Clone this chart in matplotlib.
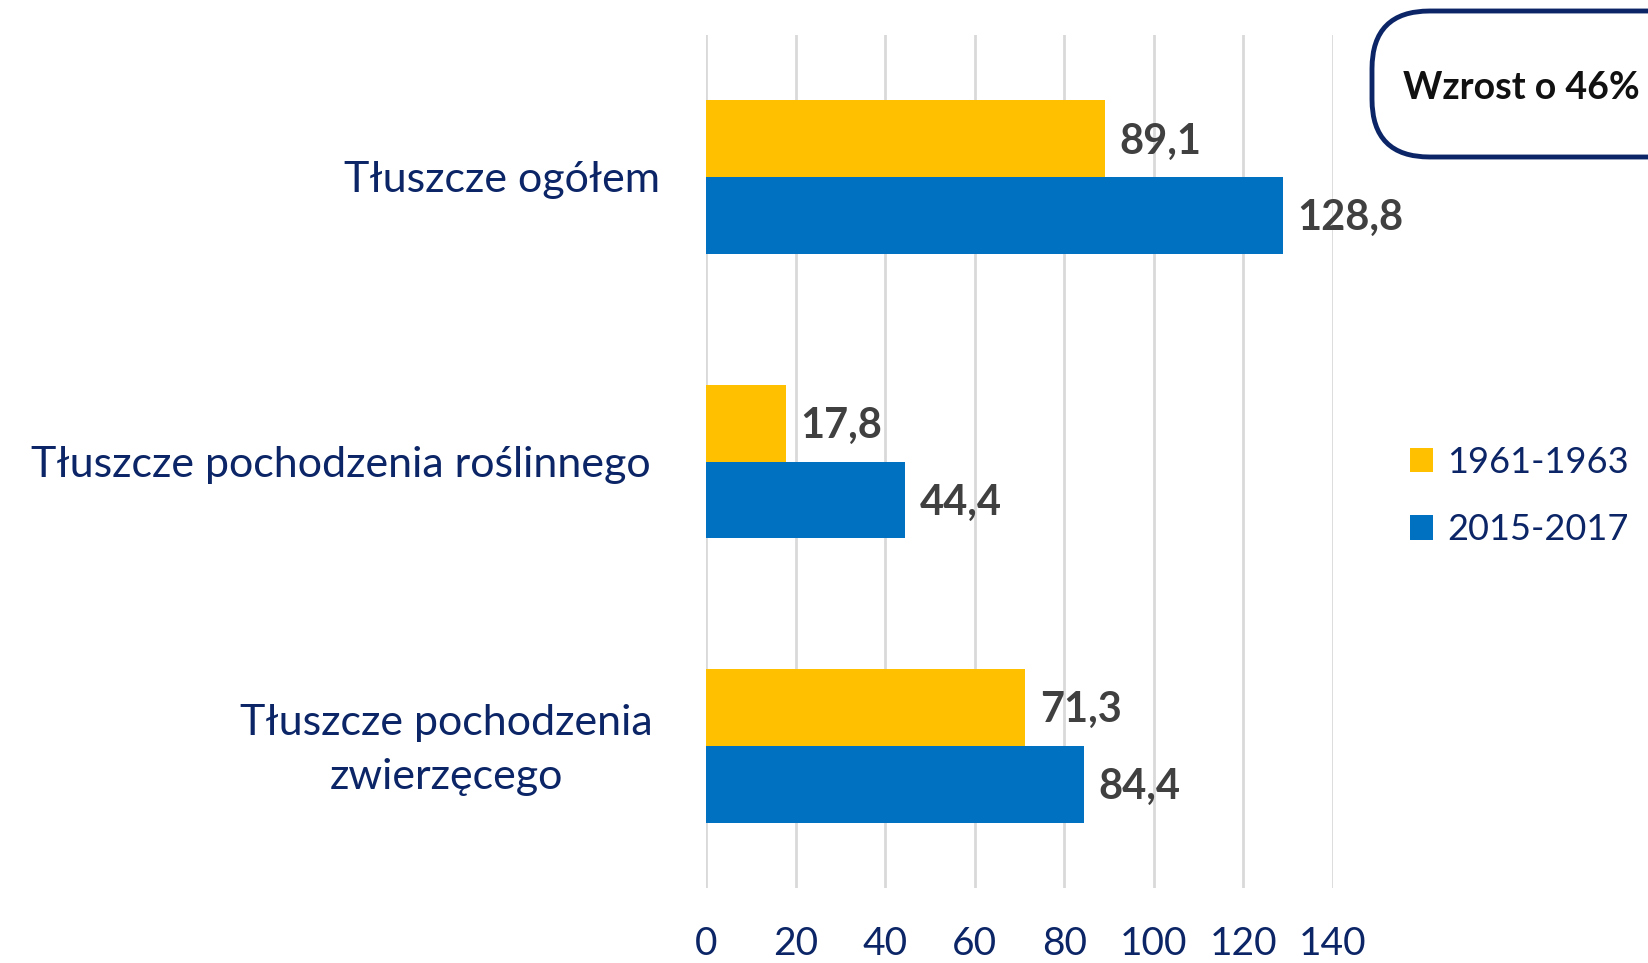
import numpy as np
import matplotlib.pyplot as plt
from matplotlib.patches import FancyBboxPatch
from matplotlib.transforms import ScaledTranslation

plt.rcParams["font.family"] = ["Lato", "DejaVu Sans"]

# === dane ===
categories = ["Tłuszcze ogółem",
              "Tłuszcze pochodzenia roślinnego",
              "Tłuszcze pochodzenia\nzwierzęcego"]
series_names = ["1961-1963", "2015-2017"]
values_1961 = [89.1, 17.8, 71.3]
values_2015 = [128.8, 44.4, 84.4]
x_ticks = [0, 20, 40, 60, 80, 100, 120, 140]
note_text = "Wzrost o 46%"

# === kolory / style ===
yellow = "#FFC000"
blue = "#0070C0"
navy = "#0B2566"
label_gray = "#404040"
grid_gray = "#D9D9D9"

W, H = 1648, 963
fig = plt.figure(figsize=(W / 100, H / 100), dpi=100)
ax = fig.add_axes([706 / W, 1 - 888 / H, (1333 - 706) / W, (888 - 35) / H])

y = np.arange(len(categories))
bar_h = 0.27

ax.barh(y - bar_h / 2, values_1961, height=bar_h, color=yellow, label=series_names[0])
ax.barh(y + bar_h / 2, values_2015, height=bar_h, color=blue, label=series_names[1])

# etykiety danych
for yy, v in zip(y - bar_h / 2, values_1961):
    ax.text(v + 3.3, yy + 0.01, f"{v:.1f}".replace(".", ","), va="center", ha="left",
            fontsize=30, fontweight="bold", color=label_gray)
for yy, v in zip(y + bar_h / 2, values_2015):
    ax.text(v + 3.3, yy + 0.01, f"{v:.1f}".replace(".", ","), va="center", ha="left",
            fontsize=30, fontweight="bold", color=label_gray)

ax.set_xlim(0, 140)
ax.set_ylim(2.5, -0.5)
ax.set_xticks(x_ticks)
ax.set_xticklabels([str(t) for t in x_ticks], fontsize=28, color=navy)
ax.set_yticks(y)
ax.set_yticklabels(categories, fontsize=31, color=navy, multialignment="center",
                   linespacing=1.52)
ax.tick_params(axis="x", length=0, pad=27)
ax.tick_params(axis="y", length=0, pad=36)
ax.grid(axis="x", color=grid_gray, linewidth=2)
ax.set_axisbelow(True)
for s in ax.spines.values():
    s.set_visible(False)

# drobne przesunięcia etykiet kategorii (jak w oryginale)
shifts = [(4, 1), (-5, 0), (-3, 7)]
for lab, (dx, dy) in zip(ax.get_yticklabels(), shifts):
    lab.set_transform(lab.get_transform() + ScaledTranslation(dx / 100, dy / 100, fig.dpi_scale_trans))

# legenda
leg = fig.legend(loc="center left", bbox_to_anchor=(1410 / W, 1 - 496 / H),
                 frameon=False, fontsize=26, handlelength=0.65, handleheight=0.65,
                 handletextpad=0.38, labelspacing=0.95, borderpad=0, borderaxespad=0)
for t in leg.get_texts():
    t.set_color(navy)

# ramka z komentarzem
box = FancyBboxPatch((1372 / W, 1 - 157 / H), 400 / W, 146 / H,
                     boxstyle="round,pad=0,rounding_size=0.035",
                     transform=fig.transFigure, facecolor="white",
                     edgecolor="#0B2566", linewidth=3.5, clip_on=False,
                     mutation_aspect=W / H)
fig.patches.append(box)
fig.text(1403 / W, 1 - 88 / H, note_text, fontsize=27, fontweight="bold",
         color="#111111", va="center", ha="left")

fig.savefig("out.png", dpi=100)
